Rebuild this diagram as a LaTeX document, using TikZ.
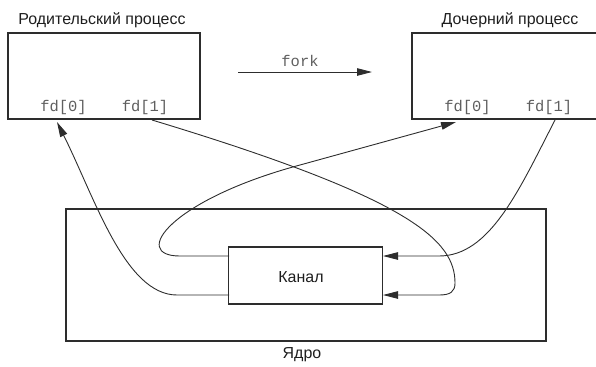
\documentclass[tikz,border=0pt]{standalone}
\usepackage{fontspec}
\setmainfont{Liberation Sans}
\setmonofont{Liberation Mono}
\usetikzlibrary{arrows.meta}
\definecolor{lc}{RGB}{45,45,45}
\definecolor{tc}{RGB}{30,30,30}
\definecolor{mc}{RGB}{95,95,95}
\begin{document}
\begin{tikzpicture}[x=1bp,y=-1bp,
  box/.style={draw=lc, line width=1.1bp, inner sep=0pt},
  arr/.style={draw=lc, line width=0.9bp, -{Triangle[length=15bp,width=7.5bp]}},
  lbl/.style={font=\fontsize{16}{18}\selectfont, text=tc, inner sep=0pt},
  fdl/.style={font=\ttfamily\fontsize{15.5}{17}\selectfont, text=mc, inner sep=0pt}]
\useasboundingbox (0,0) rectangle (596,366);
% boxes
\node[box, minimum width=192bp, minimum height=86bp] (parent) at (104,76) {};
\node[box, minimum width=192bp, minimum height=86bp] (child) at (508,76) {};
\node[box, minimum width=480bp, minimum height=132bp] (kernel) at (306,275) {};
\node[box, minimum width=154bp, minimum height=57bp, fill=white] (pipe) at (305.5,275.5) {};
% labels
\node[lbl] (ptitle) at (102,20) {Родительский процесс};
\node[lbl] (ctitle) at (510,20) {Дочерний процесс};
\node[lbl] (pipel) at (301,277) {Канал};
\node[lbl] (kernl) at (302,355) {Ядро};
\node[fdl] (fdp0) at (63.5,108) {fd[0]};
\node[fdl] (fdp1) at (145,108) {fd[1]};
\node[fdl] (fdc0) at (467.5,108) {fd[0]};
\node[fdl] (fdc1) at (549,108) {fd[1]};
\node[fdl] (forkl) at (300,61) {fork};
% connector ends
\coordinate (forkA) at (238,72);
\coordinate (forkB) at (372,72);
\coordinate (pinL1) at (229,256);
\coordinate (pinL2) at (229,295);
\coordinate (pinR1) at (383,256);
\coordinate (pinR2) at (383,295);
\coordinate (tipP0) at (57,122);
\coordinate (srcP1) at (152,120);
\coordinate (tipC0) at (456,122);
\coordinate (srcC1) at (555,120);
% connectors
\draw[arr] (forkA) -- (forkB);
\draw[arr] (pinL2) -- (177,295) .. controls (125,295) and (94.5,197) .. (tipP0);
\draw[arr] (srcP1) .. controls (410,198) and (455,240) .. (455,283)
  .. controls (455,292) and (450,295) .. (439,295) -- (pinR2);
\draw[arr] (pinL1) -- (180,256) .. controls (130,256) and (170,200) .. (300,165) -- (tipC0);
\draw[arr] (srcC1) .. controls (519,190) and (490,256) .. (439,256) -- (pinR1);
\end{tikzpicture}
\end{document}
